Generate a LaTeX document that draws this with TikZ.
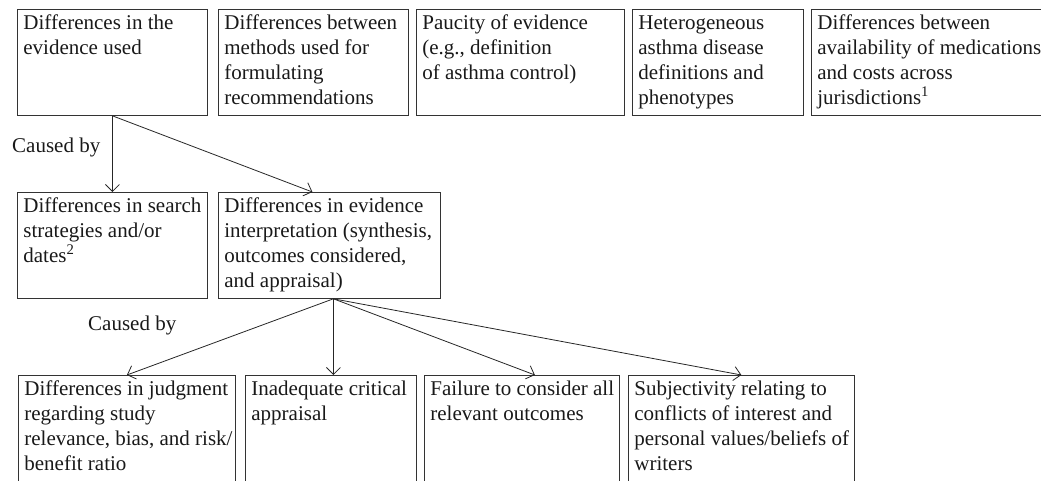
\documentclass[tikz,border=0pt]{standalone}
\usepackage{fontspec}
\setmainfont{Liberation Serif}
\usetikzlibrary{arrows.meta}

\newcommand{\cellbox}[3]{\parbox[t][#2][t]{#1}{\vspace{2.5pt}\begin{tabular}[t]{@{\hspace{6pt}}l@{}}#3\end{tabular}}}

\begin{document}
\begin{tikzpicture}[x=1pt, y=-1pt,
        cause/.style={draw=black!80, line width=0.8pt, anchor=north west, inner sep=0pt,
            font=\fontsize{21}{25}\selectfont, text=black!90},
        link/.style={draw=black!85, line width=0.8pt, -{Straight Barb[length=7pt,width=14pt]}},
        note/.style={anchor=base west, inner sep=0pt, font=\fontsize{21}{25}\selectfont, text=black!90}]
            \useasboundingbox (0, 0) rectangle (1041, 481);
            \begin{scope}
                \clip (0, 0) rectangle (1041, 481);
                % top row
                \node[cause] (evidence) at (17, 9) {\cellbox{190pt}{106pt}{Differences in the\\evidence used}};
                \node[cause] (methods) at (218, 9) {\cellbox{190pt}{106pt}{Differences between\\methods used for\\formulating\\recommendations}};
                \node[cause] (paucity) at (416, 9) {\cellbox{208pt}{106pt}{Paucity of evidence\\(e.g., definition\\of asthma control)}};
                \node[cause] (hetero) at (632, 9) {\cellbox{171pt}{106pt}{Heterogeneous\\asthma disease\\definitions and\\phenotypes}};
                \node[cause] (costs) at (811, 9) {\cellbox{250pt}{106pt}{Differences between\\availability of medications\\and costs across\\jurisdictions\textsuperscript{1}}};
                % second row
                \node[cause] (search) at (17, 192) {\cellbox{190pt}{106pt}{Differences in search\\strategies and/or\\dates\textsuperscript{2}}};
                \node[cause] (interp) at (218, 192) {\cellbox{222pt}{106pt}{Differences in evidence\\interpretation (synthesis,\\outcomes considered,\\and appraisal)}};
                % bottom row
                \node[cause] (judgment) at (18, 375) {\cellbox{217pt}{130pt}{Differences in judgment\\regarding study\\relevance, bias, and risk/\\benefit ratio}};
                \node[cause] (appraisal) at (245, 375) {\cellbox{171pt}{130pt}{Inadequate critical\\appraisal}};
                \node[cause] (outcomes) at (424, 375) {\cellbox{195pt}{130pt}{Failure to consider all\\relevant outcomes}};
                \node[cause] (subject) at (628, 375) {\cellbox{226pt}{130pt}{Subjectivity relating to\\conflicts of interest and\\personal values/beliefs of\\writers}};
                \node[note] (caused1) at (12, 153) {Caused by};
                \node[note] (caused2) at (88, 330) {Caused by};
                % arrows
                \coordinate (ifoot) at ([xshift=4pt]interp.south);
                \draw[link] (evidence.south) -- (search.north);
                \draw[link] (evidence.south) -- ([xshift=-17pt]interp.north);
                \draw[link] (ifoot) -- (judgment.north);
                \draw[link] (ifoot) -- (ifoot |- appraisal.north);
                \draw[link] (ifoot) -- ([xshift=13pt]outcomes.north);
                \draw[link] (ifoot) -- (subject.north);
            \end{scope}
        \end{tikzpicture}
\end{document}
